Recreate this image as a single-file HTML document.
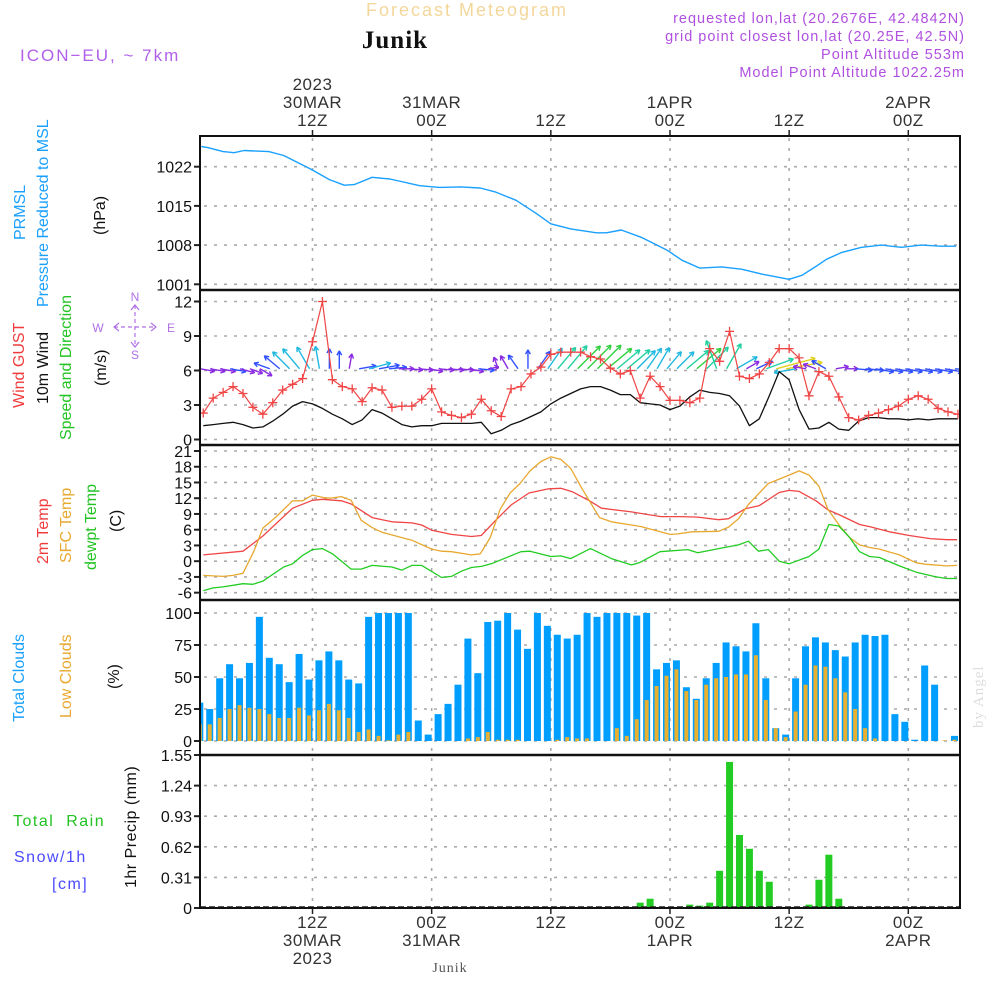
<!DOCTYPE html>
<html><head><meta charset="utf-8"><style>
html,body{margin:0;padding:0;background:#fff;}
svg{display:block;font-family:"Liberation Sans",sans-serif;}
.tk{font-size:16px;fill:#111;text-anchor:end;}
.tl{font-size:17px;fill:#333;text-anchor:middle;letter-spacing:0.5px;}
.lb{font-size:16px;}
</style></head><body>
<svg id="chart" width="1000" height="1000" viewBox="0 0 1000 1000" xmlns="http://www.w3.org/2000/svg">
<text x="467" y="16" font-size="18" fill="#f3d79a" text-anchor="middle" letter-spacing="2">Forecast Meteogram</text>
<text x="395" y="48" font-size="25" font-weight="bold" font-family="Liberation Serif, serif" fill="#111" text-anchor="middle" letter-spacing="1">Junik</text>
<text x="20" y="61" font-size="17" fill="#b060e8" letter-spacing="2">ICON−EU, ~ 7km</text>
<g font-size="14.5" fill="#b050e0" text-anchor="end" letter-spacing="1">
<text x="965" y="23">requested lon,lat (20.2676E, 42.4842N)</text>
<text x="965" y="41">grid point closest lon,lat (20.25E, 42.5N)</text>
<text x="965" y="59">Point Altitude 553m</text>
<text x="965" y="77">Model Point Altitude 1022.25m</text>
</g>
<text x="450" y="972" font-size="14" font-family="Liberation Serif, serif" fill="#555" text-anchor="middle" letter-spacing="1">Junik</text>
<text transform="translate(983,728) rotate(-90)" font-size="15" font-family="Liberation Serif, serif" fill="#ddd" letter-spacing="1">by Angel</text>

<g class="lb">
<text transform="translate(25,240) rotate(-90)" fill="#1aa0ff">PRMSL</text>
<text transform="translate(48,307) rotate(-90)" fill="#1aa0ff">Pressure Reduced to MSL</text>
<text transform="translate(105,235) rotate(-90)" fill="#111">(hPa)</text>
</g>
<g class="lb">
<text transform="translate(24,408) rotate(-90)" fill="#f03c3c">Wind GUST</text>
<text transform="translate(48,404) rotate(-90)" fill="#111">10m Wind</text>
<text transform="translate(71,440) rotate(-90)" fill="#22c322">Speed and Direction</text>
<text transform="translate(106,386) rotate(-90)" fill="#111">(m/s)</text>
</g>
<g fill="#b070e8" stroke="#b070e8" font-size="12">
<text x="135" y="301" text-anchor="middle" stroke="none">N</text>
<text x="135" y="359" text-anchor="middle" stroke="none">S</text>
<text x="98" y="332" text-anchor="middle" stroke="none">W</text>
<text x="171" y="332" text-anchor="middle" stroke="none">E</text>
<line x1="135" y1="305" x2="135" y2="347" stroke-dasharray="4,3" stroke-width="1.2"/>
<line x1="114" y1="327" x2="156" y2="327" stroke-dasharray="4,3" stroke-width="1.2"/>
<path d="M119,323 L114,327 L119,331 M151,323 L156,327 L151,331 M131,310 L135,305 L139,310 M131,342 L135,347 L139,342" fill="none" stroke-width="1.2"/>
</g>
<g class="lb">
<text transform="translate(48,564) rotate(-90)" fill="#f03c3c">2m Temp</text>
<text transform="translate(71,563) rotate(-90)" fill="#e8a830">SFC Temp</text>
<text transform="translate(96,570) rotate(-90)" fill="#22c322">dewpt Temp</text>
<text transform="translate(121,532) rotate(-90)" fill="#111">(C)</text>
</g>
<g class="lb">
<text transform="translate(24,722) rotate(-90)" fill="#1aa0ff">Total Clouds</text>
<text transform="translate(71,718) rotate(-90)" fill="#e8a830">Low Clouds</text>
<text transform="translate(119,689) rotate(-90)" fill="#111">(%)</text>
</g>
<g class="lb" letter-spacing="1.5">
<text x="13" y="826" fill="#22c322">Total &#160;Rain</text>
<text x="14" y="862" fill="#4a4aff">Snow/1h</text>
<text x="52" y="889" fill="#4a4aff">[cm]</text>
<text transform="translate(136,888) rotate(-90)" fill="#111" letter-spacing="0.5">1hr Precip (mm)</text>
</g>

<defs><clipPath id="plotclip"><rect x="200" y="136" width="760" height="772"/></clipPath></defs>
<g id="grid"></g>
<g id="marks" clip-path="url(#plotclip)"></g>
<g id="axes"></g>
</svg>
<script>
// ---------- data ----------
const timeTickHours = [12, 24, 36, 48, 60, 72];
const timeTickTop = [["2023","30MAR","12Z"],["31MAR","00Z"],["12Z"],["1APR","00Z"],["12Z"],["2APR","00Z"]];
const timeTickBottom = [["12Z","30MAR","2023"],["00Z","31MAR"],["12Z"],["00Z","1APR"],["12Z"],["00Z","2APR"]];

const pressTicks = [1001, 1008, 1015, 1022];
const pressHours = [0.8,1.5,3,4.1,5.1,7.6,9.1,11.9,13.7,15.2,16.2,18,19.8,22.8,24.8,26.9,28.9,30.4,32.5,34.5,36,38,40.6,41.6,43.1,45.1,47.7,49.2,51,53.2,55.2,57.3,60,61.3,62.7,63.8,65.3,67.3,69.3,71.3,73.3,75.3,76.8];
const pressVals = [1025.6,1025.4,1024.7,1024.5,1024.9,1024.7,1024,1021.5,1019.7,1018.7,1018.8,1020.1,1019.8,1018.6,1018.3,1018.4,1018.2,1017.5,1016.0,1013.7,1011.8,1010.9,1010.2,1010.2,1010.7,1009.4,1007.1,1005.3,1003.9,1004.1,1003.7,1002.8,1001.9,1002.6,1004.2,1005.5,1006.7,1007.6,1008,1007.6,1008,1007.8,1007.8];

const windTicks = [0, 3, 6, 9, 12];
const windHours = [1,2,3,4,5,6,7,8,9,10,11,12,13,14,15,16,17,18,19,20,21,22,23,24,25,26,27,28,29,30,31,32,33,34,35,36,37,38,39,40,41,42,43,44,45,46,47,48,49,50,51,52,53,54,55,56,57,58,59,60,61,62,63,64,65,66,67,68,69,70,71,72,73,74,75,76,77];
const gustVals = [2.3,3.6,4.1,4.6,4.0,2.8,2.2,3.2,4.3,4.8,5.3,8.5,12,5.2,4.6,4.4,3.3,4.5,4.3,2.8,2.9,2.9,3.5,4.4,2.4,2.1,1.9,2.2,3.5,2.5,2.0,4.4,4.6,5.7,6.3,7.4,7.6,7.6,7.6,7.2,7.0,6.2,5.7,6.0,3.6,5.5,4.6,3.4,3.4,3.2,3.6,7.9,6.8,9.4,5.5,5.3,5.7,6.7,7.9,7.9,7.1,3.8,5.9,5.5,3.7,1.9,1.7,2.1,2.3,2.6,2.9,3.5,3.8,3.5,2.7,2.4,2.2];
const windVals = [1.2,1.3,1.4,1.5,1.3,1.0,1.1,1.6,2.2,2.9,3.3,3.1,2.7,2.2,1.8,1.3,1.7,2.6,2.3,1.8,1.3,1.1,1.2,1.2,1.4,1.4,1.4,1.4,1.5,0.5,0.8,1.3,1.6,2.0,2.4,3.1,3.6,4.0,4.4,4.6,4.6,4.3,3.9,3.9,3.2,3.1,3.0,2.6,2.9,3.7,4.3,4.1,4.0,3.8,2.9,1.2,1.8,3.8,5.9,5.2,2.6,0.9,1.0,1.5,0.9,0.8,1.6,1.9,1.9,1.8,1.8,1.7,1.8,1.7,1.8,1.8,1.8];
const windDirs = [-10,-10,-10,-10,-15,-20,-30,160,140,135,130,120,100,90,90,80,10,15,10,5,0,-5,-5,-10,-5,-5,-5,-10,-5,10,110,120,125,90,55,55,50,50,45,45,45,40,40,40,45,55,60,50,45,40,40,45,110,60,30,30,25,20,15,10,190,170,160,150,10,0,-5,-5,-10,-10,-10,-10,-10,-10,-10,-10,-5];

const tempTicks = [-6,-3,0,3,6,9,12,15,18,21];
const t2Hours = [1,5,7,10,12,13,14.9,15.9,18,20,22,23,24,26,28,29,30.4,32,33.8,35.8,37,38.2,39.9,41.1,44.1,47.1,49.1,50.8,52.9,53.9,55.6,57,59,60,61,62.7,63.9,65.1,67.1,68.1,70.1,72.1,74.2,75.9,76.9];
const t2Vals = [1.2,1.9,4.8,10.1,11.6,11.8,11.5,10.9,8.3,7.5,7.3,6.9,5.9,5.1,4.7,4.9,7.7,10.7,13,13.8,13.9,13.2,11.5,10.1,9.4,8.5,8.5,8.4,7.9,8.1,10,10.6,13.1,13.5,13.3,11.5,9.8,8.8,7.0,6.6,5.6,4.9,4.3,4.1,4.1];
const sfcHours = [1,3,4,5,6.1,7,8.3,10,11,12,13.2,13.8,14.9,15.9,16.9,18,19,21,22,24,25,26,28,28.9,29.9,30.9,31.9,32.9,33.9,35,36,37,38,39,40.9,42.1,45.1,48,48.8,50.2,52.9,53.9,54.9,55.9,57.9,60,61,62,63,63.9,65.1,66.1,67.1,68.1,69.1,71.1,72.8,73.8,75.9,76.9];
const sfcVals = [-2.7,-2.9,-2.7,-2.3,1.9,6.3,8.4,11.5,11.5,12.6,12.1,12,12.3,11.6,7.8,6.4,5.5,4.5,4,2.3,1.9,1.8,1.2,1.4,4.5,9.9,13,14.8,17.2,19,19.9,19.4,17.7,14.3,8.3,7.5,6.6,5.1,5.2,5.6,5.7,6.5,8.1,10.8,14.8,16.4,17.2,16.4,14.3,9.9,6.7,4.5,3.1,2.6,2.3,1.2,-0.3,-0.6,-0.9,-0.8];
const dewHours = [1,2,3,5,6,7,9.1,10,11,12,13,14,15.9,16.9,18,20,21,22,23,25,26,27,28,29,30,33,33.9,36,37,38,40,42.1,44.1,44.9,47,49.8,50.8,52.9,54.9,55.9,56.9,57.9,59,60,62,63,64,65,66.1,67.1,68.1,69.1,71.1,72.8,74.8,75.9,76.9];
const dewVals = [-5.6,-5.1,-4.9,-4.3,-4.4,-3.8,-1.1,-0.5,1.1,2.2,2.4,1.4,-1.5,-1.5,-0.8,-1.1,-1.7,-0.8,-0.8,-3.1,-2.9,-1.9,-1.2,-1,-0.5,1.8,1.9,0.9,1,0.5,2.4,0.5,-0.7,-0.3,1.8,2.2,1.6,2.4,3.1,3.8,1.9,2.2,0,-0.5,0.9,2.3,7,6.7,4.5,1.8,0.9,0.7,-0.9,-2.1,-3,-3.3,-3.3];

const cloudTicks = [0, 25, 50, 75, 100];
const cloudStartHour = 0.65;
const totalClouds = [30,25,49,60,49,61,97,65,60,46,68,48,63,70,63,48,45,97,100,100,100,100,16,5,21,29,44,80,53,93,94,100,87,72,100,90,83,80,83,100,97,100,100,100,98,100,56,61,63,42,33,49,61,77,74,70,92,49,10,5,49,74,81,77,71,66,77,83,82,83,21,15,1,59,44,0,4];
const lowClouds = [13,13,18,25,28,26,25,21,18,18,26,20,24,29,24,18,7,9,4,0.5,5,7,0,0,0,0,0,2,3,7,1,1,1,0,0,0,1,3,2,2,0,0,10,4,17,32,43,51,56,39,32,44,49,50,52,52,67,32,10,3,23,44,59,58,49,38,25,10,2,0,0,0,0,0,0,0.5,1];

const precipTicks = ["0","0.31","0.62","0.93","1.24","1.55"];
const precipHours = [45,46,50,51,52,53,54,55,56,57,58,62,63,64,65];
const precipVals = [0.054,0.094,0.034,0.024,0.054,0.377,1.48,0.74,0.6,0.377,0.266,0.034,0.286,0.54,0.094];

// ---------- axes ----------
const X0 = 200, X1 = 960;
const xT = h => 312.5 + (h - 12) * 9.93;
const yP = p => 166.7 + (1022 - p) * 5.6;
const yW = v => 439.5 - v * 11.5;
const yT = t => 451 + (21 - t) * 5.247;
const yC = c => 741 - c * 1.28;
const yR = r => 908 - r * 98.7;

const NS = "http://www.w3.org/2000/svg";
const grid = document.getElementById('grid');
const marks = document.getElementById('marks');
const axes = document.getElementById('axes');
function mk(tag, attrs, parent) {
  const el = document.createElementNS(NS, tag);
  for (const k in attrs) el.setAttribute(k, attrs[k]);
  parent.appendChild(el);
  return el;
}
const dotted = {stroke:'#aaa','stroke-width':1.6,'stroke-dasharray':'3,7'};

function hGrid(ticks, yf, labels, nm) {
  ticks.forEach((t, i) => {
    const y = yf(+t);
    const g = mk('line', Object.assign({x1:X0+4,x2:X1,y1:y,y2:y}, dotted), grid);
    
    
    const tk = mk('line', {x1:X0-6,x2:X0,y1:y,y2:y,stroke:'#222','stroke-width':2}, axes);
    
    
    const tx = mk('text', {x:X0-8,y:y+6,class:'tk'}, axes);
    
    
    tx.textContent = labels ? labels[i] : t;
  });
}
hGrid(pressTicks, yP, null, 'pressure');
hGrid(windTicks, yW, null, 'wind');
hGrid(tempTicks, yT, null, 'temp');
hGrid(cloudTicks, yC, null, 'cloud');
hGrid(precipTicks, yR, precipTicks, 'precip');

timeTickHours.forEach((h, i) => {
  const x = xT(h);
  const v = mk('line', Object.assign({x1:x,x2:x,y1:138,y2:906}, dotted), grid);
  
  
  [[136,-6],[908,6]].forEach(([y,d]) => {
    const t = mk('line', {x1:x,x2:x,y1:y,y2:y+d,stroke:'#222','stroke-width':1.5}, axes);
    
    
  });
  const top = timeTickTop[i];
  top.forEach((s, j) => {
    const t = mk('text', {x:x, y:126 - (top.length - 1 - j) * 18, class:'tl'}, axes);
    
    
    t.textContent = s;
  });
  timeTickBottom[i].forEach((s, j) => {
    const t = mk('text', {x:x, y:928 + j * 18, class:'tl'}, axes);
    
    
    t.textContent = s;
  });
});

const fr = mk('rect', {x:X0,y:136,width:X1-X0,height:772,fill:'none',stroke:'#111','stroke-width':2}, axes);


[290,445,600,755].forEach(y => {
  const s = mk('line', {x1:X0,x2:X1,y1:y,y2:y,stroke:'#111','stroke-width':2.5}, axes);
  
  
});

function poly(hs, vs, yf, color, nm, w) {
  const pts = hs.map((h, i) => xT(h).toFixed(1) + ',' + yf(vs[i]).toFixed(1)).join(' ');
  const p = mk('polyline', {points:pts,fill:'none',stroke:color,'stroke-width':w||1.4,'stroke-linejoin':'round'}, marks);
  
  
}

poly(pressHours, pressVals, yP, '#1aa0ff', 'pressure-line', 1.4);

totalClouds.forEach((v, i) => {
  const x = xT(cloudStartHour + i);
  const r = mk('rect', {x:x-3.5,y:yC(v),width:7,height:yC(0)-yC(v),fill:'#009fff'}, marks);
  
  
});
lowClouds.forEach((v, i) => {
  const x = xT(cloudStartHour + i);
  const r = mk('rect', {x:x-2,y:yC(v),width:4,height:yC(0)-yC(v),fill:'#e8b030'}, marks);
  
  
});

precipHours.forEach((h, i) => {
  const x = xT(h);
  const r = mk('rect', {x:x-3.5,y:yR(precipVals[i]),width:7,height:yR(0)-yR(precipVals[i]),fill:'#22cc22'}, marks);
  
  
});
const zl = mk('line', {x1:X0,x2:X1,y1:907,y2:907,stroke:'#222','stroke-width':1.5,'stroke-dasharray':'6,3'}, marks);



poly(t2Hours, t2Vals, yT, '#f04545', 't2m-line', 1.3);
poly(sfcHours, sfcVals, yT, '#e8a830', 'sfc-temp-line', 1.3);
poly(dewHours, dewVals, yT, '#22cc22', 'dewpoint-line', 1.3);

function windColor(s) {
  if (s < 1.5) return '#8a2be2';
  if (s < 2.5) return '#3050ff';
  if (s < 3.4) return '#20b8e0';
  if (s < 4.2) return '#20d0a0';
  if (s < 5.2) return '#30d040';
  return '#e0d020';
}
const baseY = yW(6.15);
windHours.forEach((h, i) => {
  const s = windVals[i], a = windDirs[i] * Math.PI / 180;
  const len = 8 + s * 5.5;
  const x1 = xT(h) - 3, y1 = baseY;
  const x2 = x1 + Math.cos(a) * len, y2 = y1 - Math.sin(a) * len;
  const c = windColor(s);
  const g = mk('g', {stroke:c,'stroke-width':1.4,fill:'none'}, marks);
  
  
  mk('line', {x1:x1,y1:y1,x2:x2,y2:y2}, g);
  const hl = 5;
  [a + Math.PI - 0.5, a + Math.PI + 0.5].forEach(b => {
    mk('line', {x1:x2,y1:y2,x2:x2 + Math.cos(b) * hl,y2:y2 - Math.sin(b) * hl}, g);
  });
});

poly(windHours, windVals, yW, '#111', 'wind-speed-line', 1.3);
poly(windHours, gustVals, yW, '#f04545', 'wind-gust-line', 1.2);
windHours.forEach((h, i) => {
  const x = xT(h), y = yW(gustVals[i]);
  const m = mk('path', {d:`M${x-4.5},${y}H${x+4.5}M${x},${y-4.5}V${y+4.5}`,stroke:'#f04545','stroke-width':1.3}, marks);
  
  
});
</script>
</body></html>
